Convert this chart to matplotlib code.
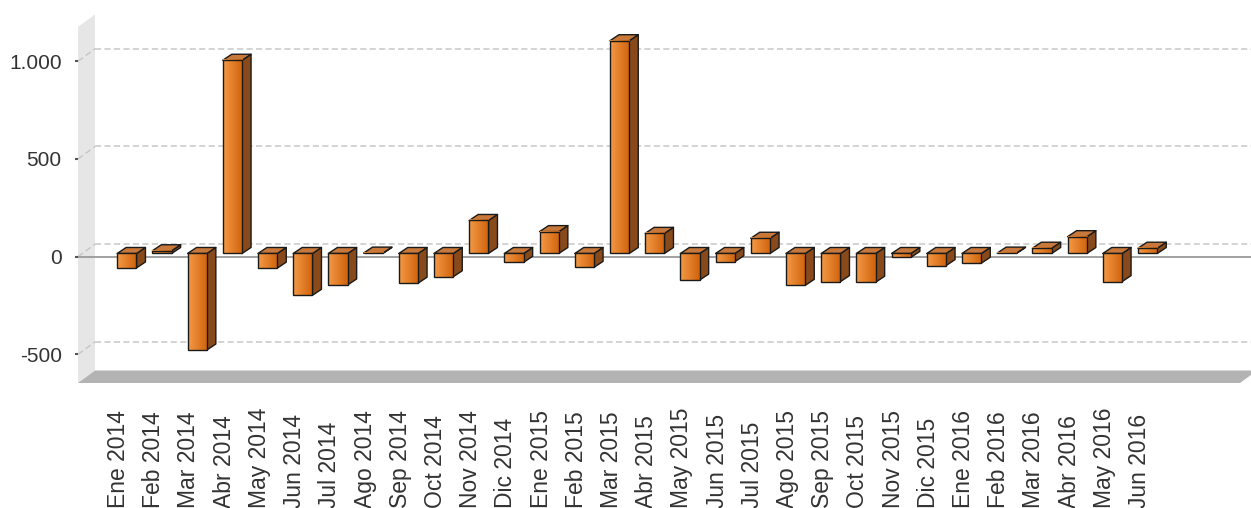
import numpy as np
import matplotlib
matplotlib.use('Agg')
import matplotlib.pyplot as plt
from matplotlib.patches import Polygon, Rectangle
from matplotlib.colors import LinearSegmentedColormap

plt.rcParams['font.family'] = ['Liberation Sans', 'DejaVu Sans']

# data
months = ['Ene 2014', 'Feb 2014', 'Mar 2014', 'Abr 2014', 'May 2014', 'Jun 2014',
          'Jul 2014', 'Ago 2014', 'Sep 2014', 'Oct 2014', 'Nov 2014', 'Dic 2014',
          'Ene 2015', 'Feb 2015', 'Mar 2015', 'Abr 2015', 'May 2015', 'Jun 2015',
          'Jul 2015', 'Ago 2015', 'Sep 2015', 'Oct 2015', 'Nov 2015', 'Dic 2015',
          'Ene 2016', 'Feb 2016', 'Mar 2016', 'Abr 2016', 'May 2016', 'Jun 2016']
values = [-74, 14, -494, 989, -75, -214,
          -161, 2, -152, -119, 169, -45,
          112, -71, 1089, 103, -136, -42,
          78, -163, -144, -147, -20, -62,
          -50, 2, 27, 86, -144, 27]
yticks = [-500, 0, 500, 1000]
ytick_labels = ['-500', '0', '500', '1.000']

# layout (pixels -> data units)
W, H = 1251, 508
PX = 35.2        # px per category
PY = 0.1954      # px per value unit
X_LIM = (-1.267, 31.744)
Y_LIM = (-646.4, 1175.5)
WALL_DX, WALL_DY = 17 / PX, 12.5 / PY
BAR_OFF_X, BAR_OFF_Y = 4.2 / PX, 3.2 / PY
BAR_DX, BAR_DY = 9 / PX, 6 / PY
BAR_W = 19.3 / PX
LABEL_SHIFT = -4.0 / PX

TEXT_COL = '#333333'
EDGE = '#1a1a1a'

fig = plt.figure(figsize=(W / 100, H / 100), dpi=100)
ax = fig.add_axes([78 / W, (H - 383) / H, (1240 - 78) / W, (383 - 27) / H])
ax.set_xlim(*X_LIM)
ax.set_ylim(*Y_LIM)
for s in ax.spines.values():
    s.set_visible(False)
ax.patch.set_visible(False)

x0, x1 = X_LIM
y0, y1 = Y_LIM

# left wall and floor
wall = Polygon([(x0, y0), (x0, y1), (x0 + WALL_DX, y1 + WALL_DY), (x0 + WALL_DX, y0 + WALL_DY)],
               closed=True, fc='#e6e6e6', ec='none', zorder=0, clip_on=False)
ax.add_patch(wall)
floor = Polygon([(x0, y0), (x1, y0), (x1 + WALL_DX, y0 + WALL_DY), (x0 + WALL_DX, y0 + WALL_DY)],
                closed=True, fc='#b3b3b3', ec='none', zorder=0.5, clip_on=False)
ax.add_patch(floor)

# grid lines on the back plane plus the slanted part on the wall
for v in yticks:
    ax.plot([x0 + WALL_DX, x1 + WALL_DX], [v + WALL_DY, v + WALL_DY], color='#c8c8c8',
            lw=1.1, ls=(0, (4, 2.2)), zorder=1, clip_on=False)
    ax.plot([x0, x0 + WALL_DX], [v, v + WALL_DY], color='#c8c8c8',
            lw=1.1, ls=(0, (4, 2.2)), zorder=1, clip_on=False)

# zero line
ax.plot([x0, x1 + WALL_DX], [0, 0], color='#9a9a9a', lw=1.3, zorder=1.5, clip_on=False)

# 3d bars
front_cmap = LinearSegmentedColormap.from_list('front', ['#f49a46', '#d0620c'])
grad = np.linspace(0, 1, 64).reshape(1, -1)
for i, v in enumerate(values):
    c = i + BAR_OFF_X
    left, right = c - BAR_W / 2, c + BAR_W / 2
    top = max(v, 0) + BAR_OFF_Y
    bot = min(v, 0) + BAR_OFF_Y
    z = 3 + i * 0.01
    side = Polygon([(right, bot), (right, top), (right + BAR_DX, top + BAR_DY), (right + BAR_DX, bot + BAR_DY)],
                   closed=True, fc='#894a1b', ec=EDGE, lw=1.0, zorder=z, joinstyle='round')
    ax.add_patch(side)
    lid = Polygon([(left, top), (right, top), (right + BAR_DX, top + BAR_DY), (left + BAR_DX, top + BAR_DY)],
                  closed=True, fc='#c8783a', ec=EDGE, lw=1.0, zorder=z, joinstyle='round')
    ax.add_patch(lid)
    ax.imshow(grad, cmap=front_cmap, extent=(left, right, bot, top), aspect='auto',
              interpolation='bilinear', zorder=z + 0.001)
    ax.add_patch(Rectangle((left, bot), BAR_W, top - bot, fill=False, ec=EDGE,
                           lw=1.0, zorder=z + 0.002))

ax.set_xlim(*X_LIM)
ax.set_ylim(*Y_LIM)

# axes ticks
ax.set_yticks(yticks, labels=ytick_labels)
ax.tick_params(axis='y', length=2.2, width=1.5, color='#555555', pad=9.5,
               labelsize=15, labelcolor=TEXT_COL)
ax.set_xticks(np.arange(len(months)) + LABEL_SHIFT, labels=months, rotation=90)
ax.tick_params(axis='x', length=0, pad=90, labelsize=16.5, labelcolor=TEXT_COL)
for t in ax.get_xticklabels():
    t.set_va('bottom')

fig.savefig('out.png', dpi=100)
